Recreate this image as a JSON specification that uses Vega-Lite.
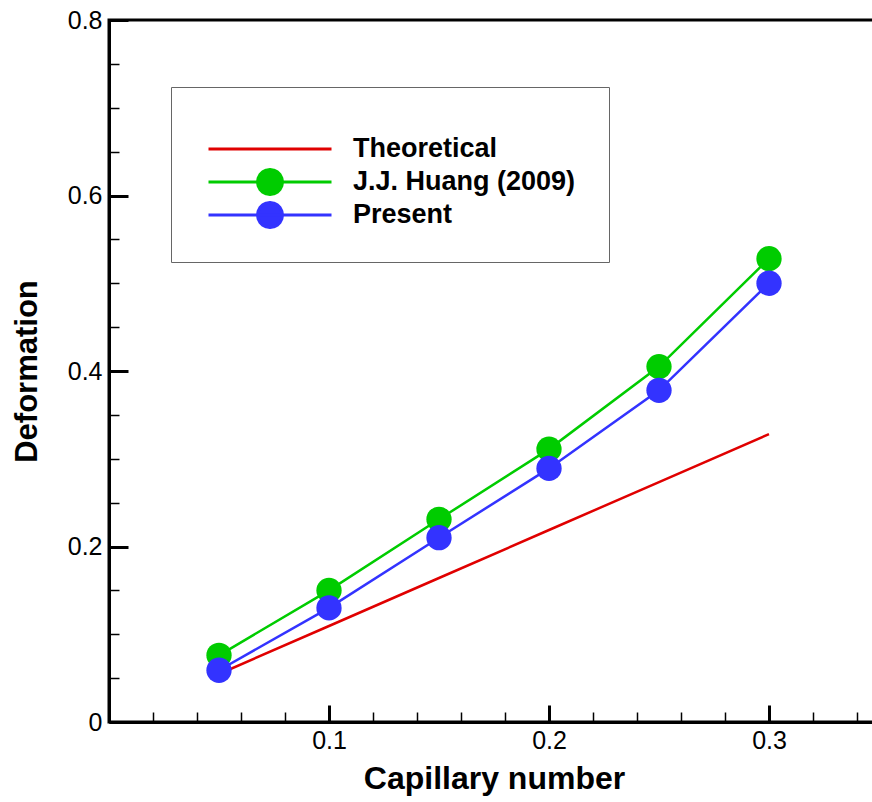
{
  "$schema": "https://vega.github.io/schema/vega-lite/v6.json",
  "autosize": {"type": "none"},
  "padding": {"left": 109, "top": 20, "right": 0, "bottom": 80},
  "width": 770,
  "height": 702,
  "background": "white",
  "config": {
    "view": {"stroke": "black", "strokeWidth": 3},
    "axis": {
      "labelFont": "Liberation Sans",
      "labelFontSize": 25,
      "labelColor": "black",
      "titleFont": "Liberation Sans",
      "titleFontSize": 31,
      "titleFontWeight": "bold",
      "titleColor": "black",
      "domainColor": "black",
      "domainWidth": 3,
      "tickColor": "black",
      "grid": false
    }
  },
  "data": {
    "values": [
      {"Ca": 0.05, "D": 0.0547, "series": "Theoretical"},
      {"Ca": 0.10, "D": 0.1094, "series": "Theoretical"},
      {"Ca": 0.15, "D": 0.1641, "series": "Theoretical"},
      {"Ca": 0.20, "D": 0.2188, "series": "Theoretical"},
      {"Ca": 0.25, "D": 0.2734, "series": "Theoretical"},
      {"Ca": 0.30, "D": 0.3281, "series": "Theoretical"},
      {"Ca": 0.05, "D": 0.076, "series": "J.J. Huang (2009)"},
      {"Ca": 0.10, "D": 0.150, "series": "J.J. Huang (2009)"},
      {"Ca": 0.15, "D": 0.231, "series": "J.J. Huang (2009)"},
      {"Ca": 0.20, "D": 0.311, "series": "J.J. Huang (2009)"},
      {"Ca": 0.25, "D": 0.405, "series": "J.J. Huang (2009)"},
      {"Ca": 0.30, "D": 0.528, "series": "J.J. Huang (2009)"},
      {"Ca": 0.05, "D": 0.059, "series": "Present"},
      {"Ca": 0.10, "D": 0.130, "series": "Present"},
      {"Ca": 0.15, "D": 0.210, "series": "Present"},
      {"Ca": 0.20, "D": 0.289, "series": "Present"},
      {"Ca": 0.25, "D": 0.378, "series": "Present"},
      {"Ca": 0.30, "D": 0.500, "series": "Present"}
    ]
  },
  "encoding": {
    "x": {
      "field": "Ca", "type": "quantitative",
      "scale": {"domain": [0, 0.35], "nice": false, "zero": false},
      "axis": {
        "title": "Capillary number",
        "titleFontSize": 32,
        "values": [0.02, 0.04, 0.06, 0.08, 0.1, 0.12, 0.14, 0.16, 0.18, 0.2, 0.22, 0.24, 0.26, 0.28, 0.3, 0.32, 0.34],
        "labelExpr": "round(datum.value*100) % 10 == 0 ? format(datum.value, '.1f') : ''",
        "tickSize": {"condition": {"test": "round(datum.value*100) % 10 == 0", "value": -17}, "value": -10},
        "tickWidth": {"condition": {"test": "round(datum.value*100) % 10 == 0", "value": 3}, "value": 1.5},
        "labelPadding": 23,
        "titlePadding": 10
      }
    },
    "y": {
      "field": "D", "type": "quantitative",
      "scale": {"domain": [0, 0.8], "nice": false},
      "axis": {
        "title": "Deformation",
        "values": [0, 0.05, 0.1, 0.15, 0.2, 0.25, 0.3, 0.35, 0.4, 0.45, 0.5, 0.55, 0.6, 0.65, 0.7, 0.75, 0.8],
        "labelExpr": "round(datum.value*100) % 20 == 0 ? (datum.value == 0 ? '0' : format(datum.value, '.1f')) : ''",
        "tickSize": {"condition": {"test": "round(datum.value*100) % 20 == 0", "value": -19}, "value": -10},
        "tickWidth": {"condition": {"test": "round(datum.value*100) % 20 == 0", "value": 3}, "value": 1.5},
        "labelPadding": 26,
        "titlePadding": 24
      }
    },
    "color": {
      "field": "series", "type": "nominal",
      "scale": {
        "domain": ["Theoretical", "J.J. Huang (2009)", "Present"],
        "range": ["#e00000", "#00cc00", "#3333ff"]
      },
      "legend": {
        "orient": "none",
        "legendX": 62,
        "legendY": 67,
        "title": " ",
        "titleFontSize": 11,
        "titlePadding": 4,
        "strokeColor": "#666666",
        "fillColor": "white",
        "padding": 33,
        "gridAlign": "all",
        "labelFont": "Liberation Sans",
        "labelFontSize": 27,
        "labelFontWeight": "bold",
        "labelColor": "black",
        "labelLimit": 400,
        "labelOffset": 121,
        "rowPadding": 5,
        "symbolSize": 625,
        "symbolStrokeWidth": 3,
        "symbolType": "M-4.92,0H4.92",
        "encode": {
          "symbols": {
            "update": {
              "x": {"value": 66},
              "shape": {"signal": "datum.value === 'Theoretical' ? 'M-4.92,0H4.92' : 'M-4.92,0H4.92M1,0L0.951,0.309L0.809,0.588L0.588,0.809L0.309,0.951L0,1L-0.309,0.951L-0.588,0.809L-0.809,0.588L-0.951,0.309L-1,0L-0.951,-0.309L-0.809,-0.588L-0.588,-0.809L-0.309,-0.951L0,-1L0.309,-0.951L0.588,-0.809L0.809,-0.588L0.951,-0.309Z'"},
              "fill": {"scale": "color", "field": "value"},
              "stroke": {"scale": "color", "field": "value"},
              "fillOpacity": {"value": 1},
              "strokeWidth": {"value": 3},
              "strokeJoin": {"value": "round"}
            }
          }
        }
      }
    }
  },
  "layer": [
    {
      "mark": {"type": "line", "strokeWidth": 2.5}
    },
    {
      "transform": [{"filter": "datum.series !== 'Theoretical'"}],
      "mark": {"type": "point", "shape": "circle", "filled": true, "opacity": 1, "size": 640}
    }
  ]
}
